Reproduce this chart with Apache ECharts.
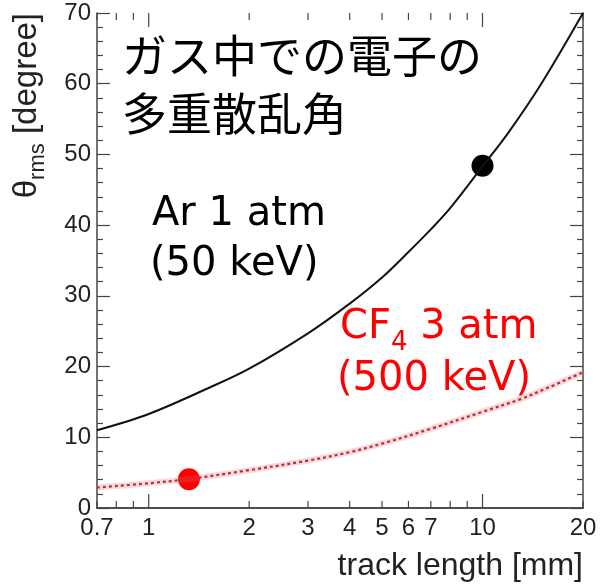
<!DOCTYPE html>
<html>
<head>
<meta charset="utf-8">
<script src="https://cdn.jsdelivr.net/npm/echarts@6/dist/echarts.min.js"></script>
<style>html,body{margin:0;padding:0;background:#fff}#c{width:605px;height:584px}</style>
</head>
<body>
<div id="c"></div>
<script>
// ---- data ----
var arX = [0.7, 1, 1.5, 2, 3, 4, 5, 6, 7, 8, 10, 12, 15, 20];
var arY = [11.0, 13.3, 16.9, 19.7, 24.7, 28.9, 32.6, 36.2, 39.4, 42.4, 48.3, 53.2, 60.0, 70.0];
var cfX = [0.7, 1, 1.32, 2, 3, 4, 5, 7, 10, 13, 15, 20];
var cfY = [2.9, 3.5, 4.1, 5.35, 6.7, 7.9, 9.1, 11.2, 13.6, 15.4, 16.6, 19.2];
var arPoint = [10, 48.4];
var cfPoint = [1.32, 4.06];
var xTickLabels = [0.7, 1, 2, 3, 4, 5, 6, 7, 10, 20];
var xMajorTicks = [1, 10];
var xMinorTicks = [0.7, 0.8, 0.9, 2, 3, 4, 5, 6, 7, 8, 9, 20];
var yMin = 0, yMax = 70, yStep = 10;

function pairs(xs, ys) { return xs.map(function (x, i) { return [x, ys[i]]; }); }

var tickData = xMajorTicks.map(function (v) { return [v, 1]; })
  .concat(xMinorTicks.map(function (v) { return [v, 0]; }));

var chart = echarts.init(document.getElementById('c'), null, { renderer: 'canvas' });
var axisCol = '#444';
var labelFont = 'Liberation Sans, Arial, sans-serif';

chart.setOption({
  animation: false,
  grid: { left: 97, right: 22, top: 13, bottom: 76, outerBoundsMode: 'none' },
  xAxis: [{
    type: 'log', logBase: 10, min: 0.7, max: 20, position: 'bottom',
    axisLine: { show: true, lineStyle: { color: axisCol, width: 1.5 } },
    axisTick: { show: false },
    splitLine: { show: false },
    axisLabel: {
      customValues: xTickLabels, fontSize: 24, color: '#222', fontFamily: labelFont, margin: 8,
      formatter: function (v) { return String(+v.toPrecision(3)); }
    }
  }, {
    type: 'log', logBase: 10, min: 0.7, max: 20, position: 'top',
    axisLine: { show: true, lineStyle: { color: axisCol, width: 1.5 } },
    axisTick: { show: false }, axisLabel: { show: false }, splitLine: { show: false }
  }],
  yAxis: [{
    type: 'value', min: yMin, max: yMax, interval: yStep, position: 'left',
    axisLine: { show: true, lineStyle: { color: axisCol, width: 1.5 } },
    axisTick: { show: true, inside: true, length: 13, lineStyle: { color: axisCol, width: 1.2 } },
    minorTick: { show: true, splitNumber: 5, length: 6, lineStyle: { color: axisCol, width: 1.2 } },
    splitLine: { show: false },
    axisLabel: { fontSize: 24, color: '#222', fontFamily: labelFont, margin: 6 }
  }, {
    type: 'value', min: yMin, max: yMax, interval: yStep, position: 'right',
    axisLine: { show: true, lineStyle: { color: axisCol, width: 1.5 } },
    axisTick: { show: true, inside: true, length: 13, lineStyle: { color: axisCol, width: 1.2 } },
    minorTick: { show: true, splitNumber: 5, length: 6, lineStyle: { color: axisCol, width: 1.2 } },
    splitLine: { show: false }, axisLabel: { show: false }
  }],
  series: [{
    type: 'custom', xAxisIndex: 0, yAxisIndex: 0, silent: true,
    data: tickData,
    renderItem: function (params, api) {
      var v = api.value(0), major = api.value(1) === 1;
      var len = major ? 14 : 7;
      var b = api.coord([v, yMin]), t = api.coord([v, yMax]);
      var st = { stroke: axisCol, lineWidth: 1.2 };
      return { type: 'group', children: [
        { type: 'line', shape: { x1: b[0], y1: b[1], x2: b[0], y2: b[1] - len }, style: st },
        { type: 'line', shape: { x1: t[0], y1: t[1], x2: t[0], y2: t[1] + len }, style: st }
      ] };
    }
  }, {
    type: 'line', data: pairs(arX, arY), smooth: 0.35, symbol: 'none',
    lineStyle: { color: '#111', width: 2 }
  }, {
    type: 'line', data: pairs(cfX, cfY), smooth: 0.35, symbol: 'none',
    lineStyle: { color: 'rgba(255,90,90,0.25)', width: 6 }
  }, {
    type: 'line', data: pairs(cfX, cfY), smooth: 0.35, symbol: 'none',
    lineStyle: { color: '#a0384a', width: 2.2, type: [3, 3] }
  }, {
    type: 'scatter', data: [arPoint], symbolSize: 22, itemStyle: { color: '#000', opacity: 1 }
  }, {
    type: 'scatter', data: [cfPoint], symbolSize: 22, itemStyle: { color: '#ff0000', opacity: 1 }
  }],
  graphic: [{
    type: 'text', x: 122, y: 56,
    style: { text: 'ガス中での電子の', font: '45px "Noto Sans CJK JP"', fill: '#000', verticalAlign: 'middle' }
  }, {
    type: 'text', x: 122, y: 114,
    style: { text: '多重散乱角', font: '45px "Noto Sans CJK JP"', fill: '#000', verticalAlign: 'middle' }
  }, {
    type: 'text', x: 152, y: 215,
    style: { text: 'Ar 1 atm', font: '40px "DejaVu Sans"', fill: '#000', verticalAlign: 'middle' }
  }, {
    type: 'text', x: 150, y: 265,
    style: { text: '(50 keV)', font: '40px "DejaVu Sans"', fill: '#000', verticalAlign: 'middle' }
  }, {
    type: 'text', x: 340, y: 328,
    style: {
      text: '{a|CF}{s|4}{a| 3 atm}', verticalAlign: 'middle',
      rich: {
        a: { fontSize: 40, fontFamily: 'DejaVu Sans', fill: '#ff0000', lineHeight: 56, verticalAlign: 'middle' },
        s: { fontSize: 26, fontFamily: 'DejaVu Sans', fill: '#ff0000', lineHeight: 56, verticalAlign: 'bottom' }
      }
    }
  }, {
    type: 'text', x: 337, y: 380,
    style: { text: '(500 keV)', font: '40px "DejaVu Sans"', fill: '#ff0000', verticalAlign: 'middle' }
  }, {
    type: 'text', x: 583, y: 566,
    style: { text: 'track length [mm]', font: '32px "Liberation Sans"', fill: '#222', align: 'right', verticalAlign: 'middle' }
  }, {
    type: 'text', x: 27, y: 13, rotation: Math.PI / 2,
    style: {
      text: '{t|θ}{s|rms}{t| [degree]}', align: 'right', verticalAlign: 'middle',
      rich: {
        t: { fontSize: 33, fontFamily: 'Liberation Sans', fill: '#222', lineHeight: 44, verticalAlign: 'middle' },
        s: { fontSize: 22, fontFamily: 'Liberation Sans', fill: '#222', lineHeight: 44, verticalAlign: 'bottom' }
      }
    }
  }]
});
</script>
</body>
</html>
